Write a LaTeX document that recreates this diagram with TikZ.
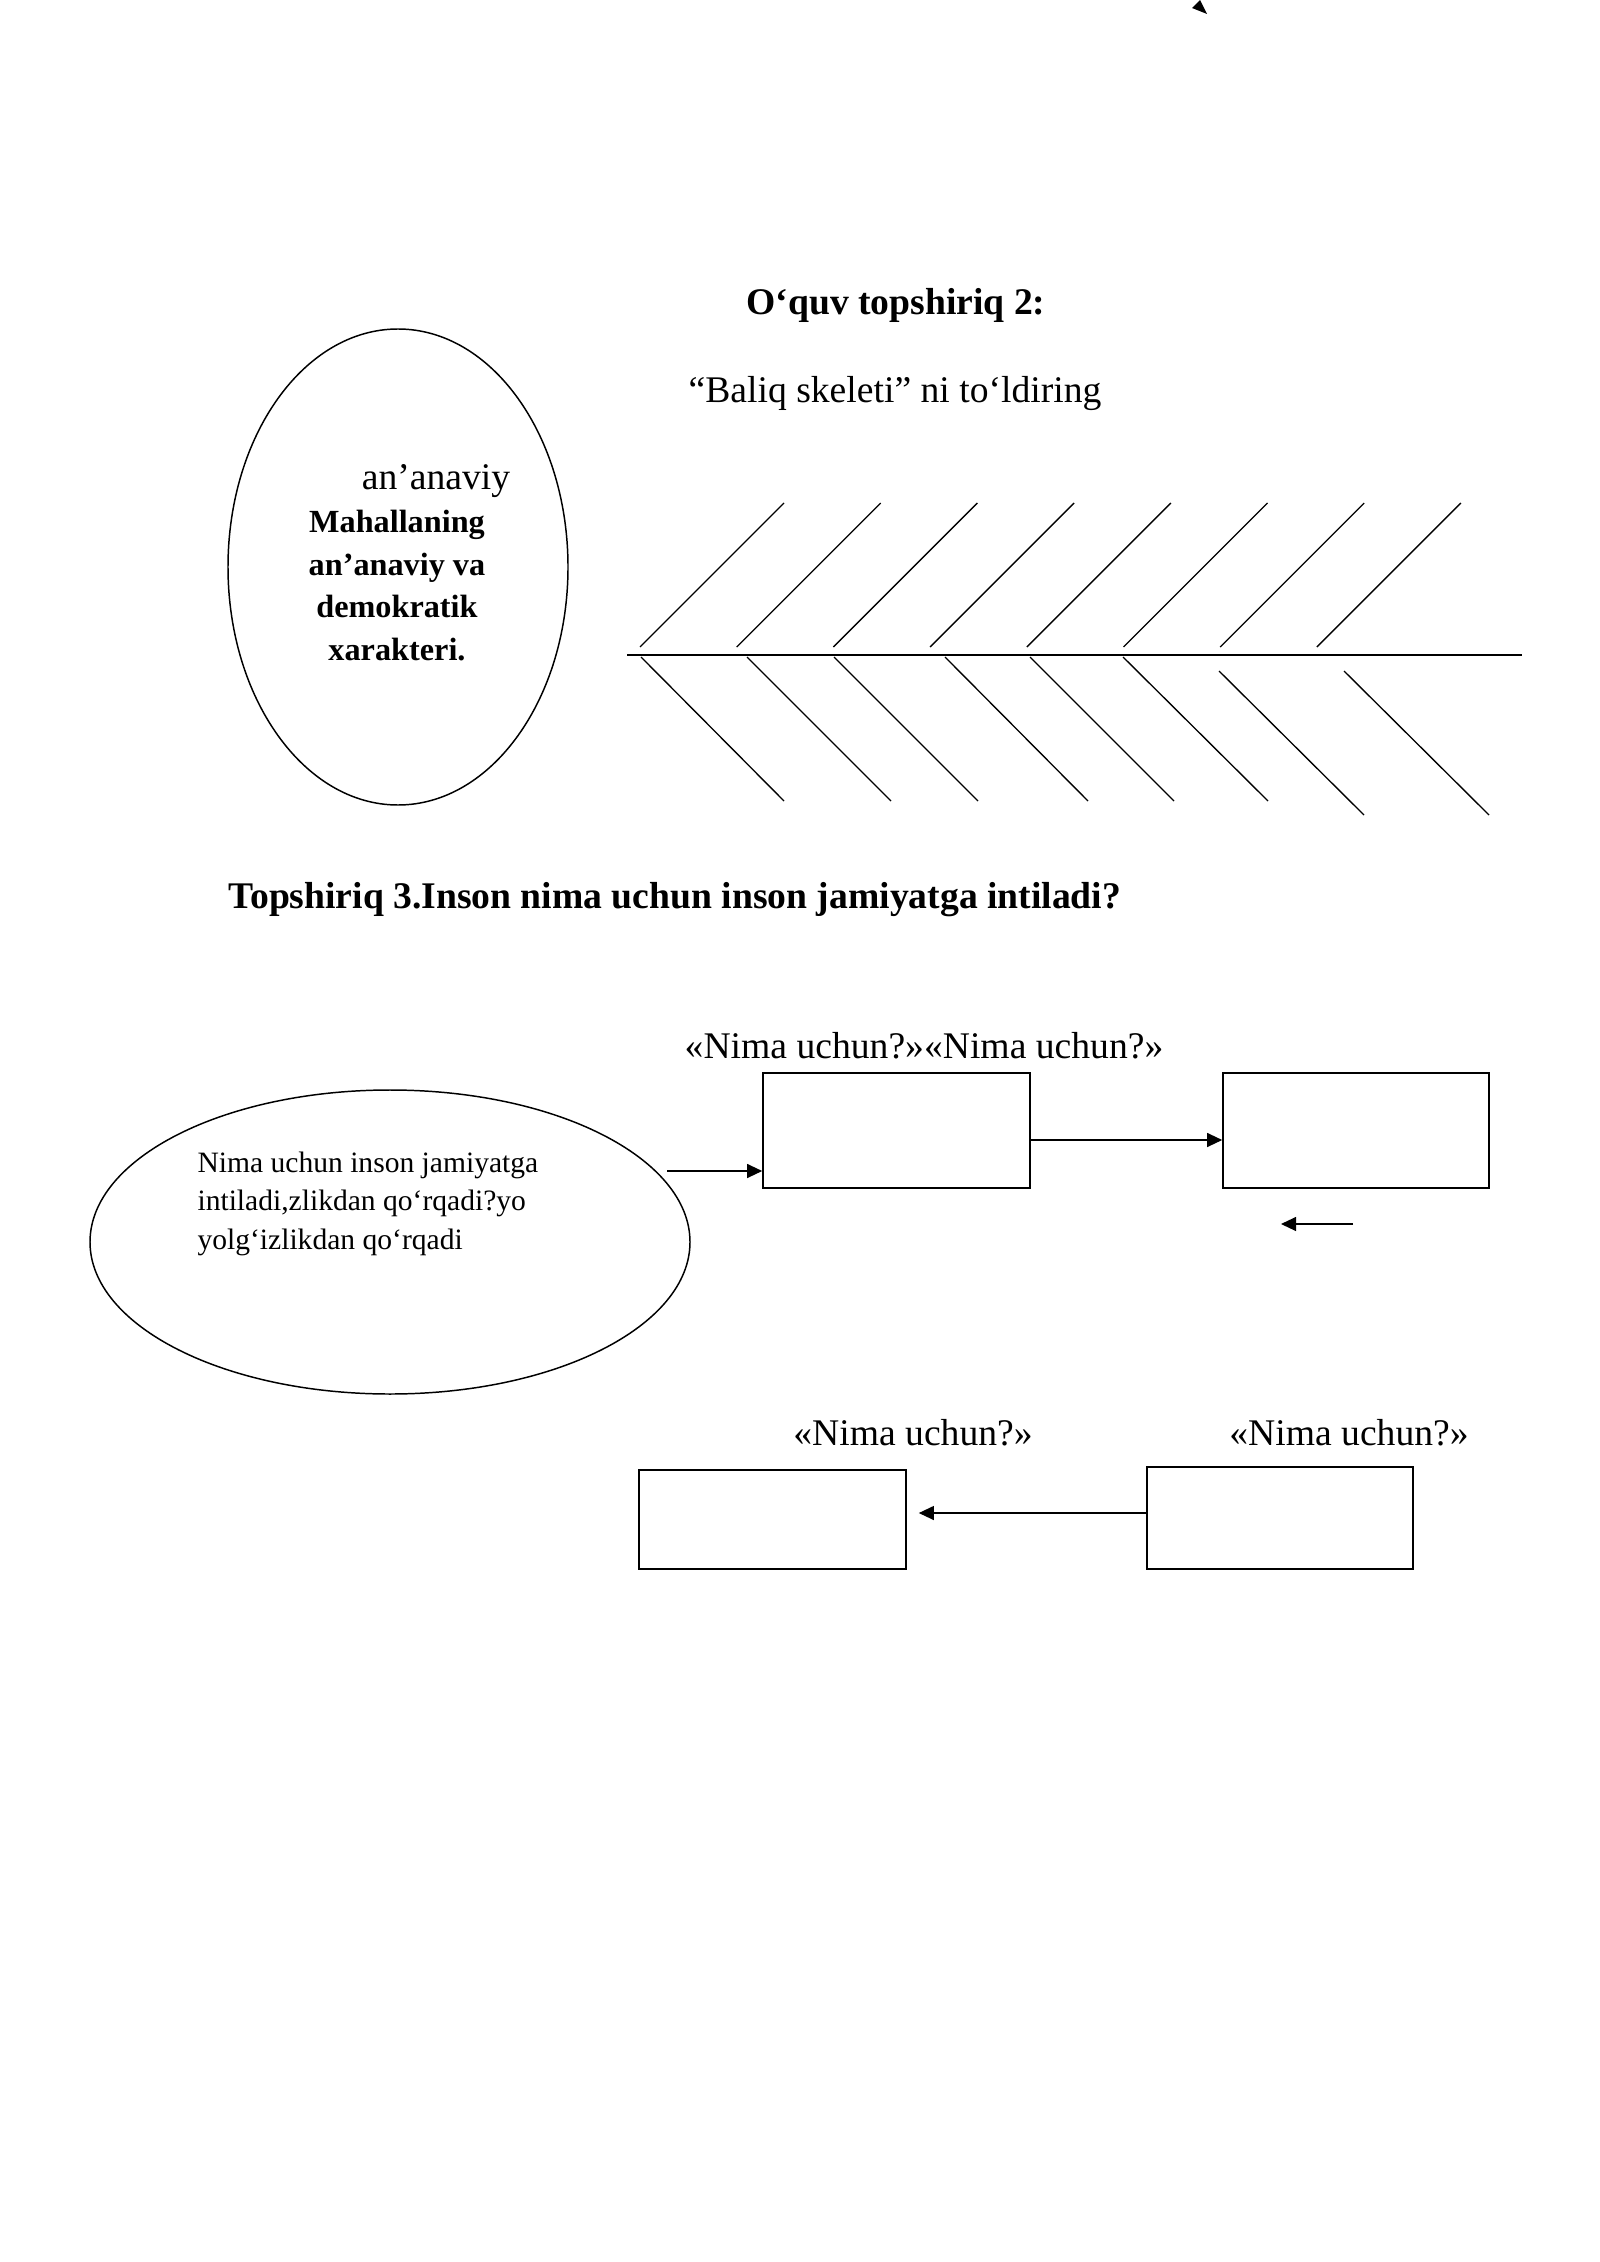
\documentclass[tikz,border=0pt]{standalone}
\usepackage{fontspec}
\setmainfont{Liberation Serif}
\usetikzlibrary{arrows.meta,shapes.geometric}
\def\pxu{0.37206pt}
\begin{document}
\begin{tikzpicture}[x=0.37206pt,y=-0.37206pt,
  ttl/.style={font=\fontsize{14}{16}\selectfont\bfseries, inner sep=0pt, anchor=base},
  txt/.style={font=\fontsize{14}{16}\selectfont, inner sep=0pt, anchor=base},
  bone/.style={line width=0.5pt},
  spine/.style={line width=0.8pt},
  oval/.style={draw, ellipse, line width=0.55pt, inner sep=0pt},
  box/.style={draw, rectangle, line width=0.6pt, inner sep=0pt},
  arr/.style={line width=0.5pt, -{Triangle[length=5.6pt,width=5.2pt]}}
]
\useasboundingbox (0,0) rectangle (1600,2262);
% stray arrowhead at top edge
\fill (1200,0) -- (1192,8) -- (1207,14) -- cycle;

% ---- task 2 ----
\node[ttl] (t2) at (896,315) {O‘quv topshiriq 2:};
\node[txt] (t2b) at (895,403) {“Baliq skeleti” ni to‘ldiring};

\node[oval, minimum width=340*\pxu, minimum height=476*\pxu] (e1) at (398,567) {};
\node[txt] (an) at (436,490) {an’anaviy};
\node[font=\fontsize{12}{15.8}\selectfont\bfseries, align=center, anchor=base, inner sep=0pt] (mah) at (397,660) {Mahallaning\\an’anaviy va\\demokratik\\xarakteri.};

% fish skeleton
\draw[spine] (627,655) -- (1522,655);
\foreach \i in {0,...,7}
  \draw[bone] ({640+96.7*\i},647) -- ({784+96.7*\i},503);
\foreach \a/\b/\c/\d in {641/657/784/801, 747/657/891/801, 834/657/978/801,
  945/657/1088/801, 1030/657/1174/801, 1123/657/1268/801,
  1219/671/1364/815, 1344/671/1489/815}
  \draw[bone] (\a,\b) -- (\c,\d);

% ---- task 3 ----
\node[ttl, anchor=base west] (t3) at (228,908) {Topshiriq 3.Inson nima uchun inson jamiyatga intiladi?};

\node[txt] (l12) at (924,1058) {«Nima uchun?»«Nima uchun?»};
\node[txt] (l3) at (913,1445) {«Nima uchun?»};
\node[txt] (l4) at (1349,1445) {«Nima uchun?»};

\node[oval, minimum width=600*\pxu, minimum height=304*\pxu] (e2) at (390,1242) {};
\node[font=\fontsize{11}{14.3}\selectfont, align=left, anchor=base west, inner sep=0pt] (q) at (197,1249)
  {Nima uchun inson jamiyatga\\intiladi,zlikdan qo‘rqadi?yo\\yolg‘izlikdan qo‘rqadi};

\node[box, minimum width=267*\pxu, minimum height=115*\pxu] (box1) at (896.5,1130.5) {};
\node[box, minimum width=266*\pxu, minimum height=115*\pxu] (box2) at (1356,1130.5) {};
\node[box, minimum width=267*\pxu, minimum height=99*\pxu] (box3) at (772.5,1519.5) {};
\node[box, minimum width=266*\pxu, minimum height=102*\pxu] (box4) at (1280,1518) {};

% connectors
\coordinate (a1s) at (667,1171);
\draw[arr] (a1s) -- (a1s -| box1.west);
\coordinate (b1e) at ([yshift=-9.5*\pxu]box1.east);
\draw[arr] (b1e) -- (b1e -| box2.west);
\coordinate (s1) at (1353,1224);
\coordinate (s2) at (1281,1224);
\draw[arr] (s1) -- (s2);
\coordinate (b4w) at ([yshift=5*\pxu]box4.west);
\coordinate (b3e) at ([xshift=12*\pxu]box3.east);
\draw[arr] (b4w) -- (b3e |- b4w);
\end{tikzpicture}
\end{document}
